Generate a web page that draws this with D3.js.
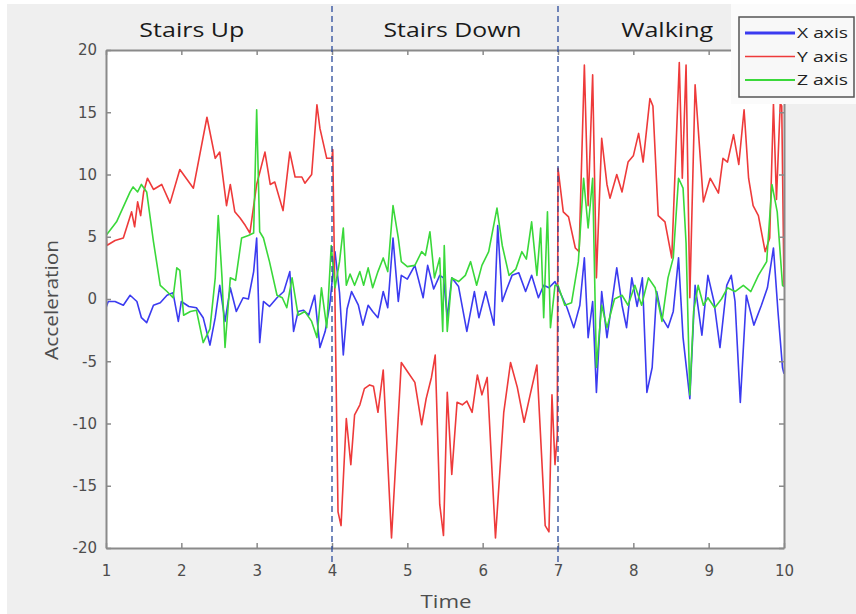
<!DOCTYPE html>
<html><head><meta charset="utf-8">
<script src="https://cdn.jsdelivr.net/npm/d3@7"></script>
<style>html,body{margin:0;padding:0;background:#fff;}svg{display:block;}</style>
</head><body>
<svg id="chart" width="856" height="614"></svg>
<script>
// ---- data ----
const xTicks = [1,2,3,4,5,6,7,8,9,10];
const yTicks = [-20,-15,-10,-5,0,5,10,15,20];
const activities = ["Stairs Up","Stairs Down","Walking"];
const activityCenters = [2.14, 5.6, 8.45];
const boundaries = [4, 7];
const seriesNames = ["X axis","Y axis","Z axis"];
const seriesColors = ["#3b3bf0","#ee3a3a","#3ad83a"];

const xAxisData = [[1.0,-0.7],[1.03,-0.2],[1.12,-0.2],[1.23,-0.5],[1.32,0.3],[1.41,-0.2],[1.47,-1.5],[1.54,-1.9],[1.63,-0.5],[1.72,-0.3],[1.81,0.3],[1.89,0.5],[1.96,-1.8],[2.0,-0.2],[2.1,-0.6],[2.2,-0.7],[2.29,-1.5],[2.38,-3.7],[2.45,-1.5],[2.51,1.1],[2.58,-1.8],[2.65,0.9],[2.73,-1.0],[2.82,0.1],[2.89,0.0],[2.96,2.2],[3.0,4.9],[3.04,-3.5],[3.09,-0.2],[3.17,-0.6],[3.27,0.1],[3.36,0.6],[3.44,2.2],[3.49,-2.6],[3.55,-1.0],[3.62,-0.9],[3.69,-1.3],[3.77,0.3],[3.84,-3.9],[3.91,-2.6],[3.97,-0.5],[4.04,3.8],[4.1,0.5],[4.15,-4.5],[4.2,-0.8],[4.26,0.6],[4.35,-0.5],[4.41,-2.1],[4.48,-0.5],[4.54,-1.0],[4.61,-1.5],[4.68,0.6],[4.74,-0.7],[4.81,4.9],[4.88,-0.2],[4.92,1.9],[5.0,1.6],[5.1,2.7],[5.21,0.1],[5.27,2.7],[5.35,0.8],[5.43,1.9],[5.48,1.7],[5.53,-1.5],[5.59,1.7],[5.68,1.0],[5.79,-2.6],[5.89,0.6],[5.95,-1.5],[6.04,0.6],[6.15,-2.1],[6.2,5.9],[6.26,-0.2],[6.32,0.8],[6.39,1.9],[6.48,2.1],[6.57,0.6],[6.65,1.9],[6.74,0.1],[6.81,1.1],[6.88,0.9],[6.96,1.4],[7.0,0.9],[7.12,-0.7],[7.21,-2.3],[7.29,-0.5],[7.35,3.3],[7.4,-3.1],[7.46,-0.2],[7.51,-7.5],[7.58,0.6],[7.65,-3.1],[7.78,2.5],[7.85,-0.5],[7.91,-2.3],[7.98,1.7],[8.05,-0.6],[8.12,1.7],[8.18,-7.5],[8.25,-5.5],[8.31,0.6],[8.38,-1.5],[8.46,-2.3],[8.53,-1.0],[8.6,3.3],[8.66,-3.1],[8.75,-8.0],[8.82,1.1],[8.91,-2.9],[8.99,1.9],[9.07,-0.2],[9.15,-3.9],[9.24,1.1],[9.3,1.9],[9.35,-0.2],[9.42,-8.3],[9.5,0.3],[9.6,-2.1],[9.7,-0.5],[9.78,0.9],[9.86,4.1],[9.92,-1.0],[9.98,-5.5],[10.0,-6.0]];

const yAxisData = [[1.0,5.5],[1.01,4.3],[1.12,4.7],[1.23,4.9],[1.34,7.0],[1.38,5.8],[1.42,7.8],[1.46,6.7],[1.5,8.6],[1.55,9.7],[1.63,8.8],[1.74,9.2],[1.85,7.7],[1.98,10.4],[2.16,8.9],[2.34,14.6],[2.45,11.3],[2.51,11.8],[2.6,7.5],[2.65,9.2],[2.71,7.0],[2.78,6.5],[2.85,5.9],[2.91,5.3],[3.0,9.2],[3.11,11.8],[3.18,9.2],[3.24,9.4],[3.35,7.1],[3.44,11.8],[3.51,9.8],[3.6,9.8],[3.64,9.3],[3.73,10.0],[3.8,15.6],[3.84,13.7],[3.93,11.3],[4.0,11.3],[4.01,12.0],[4.08,-17.1],[4.12,-18.2],[4.19,-9.6],[4.25,-13.3],[4.3,-9.3],[4.37,-8.5],[4.43,-7.2],[4.5,-6.9],[4.55,-7.0],[4.61,-9.1],[4.68,-5.7],[4.79,-19.2],[4.92,-5.1],[5.01,-5.9],[5.1,-6.7],[5.19,-10.1],[5.25,-8.0],[5.32,-6.3],[5.37,-4.5],[5.43,-16.5],[5.48,-19.0],[5.53,-7.5],[5.59,-14.1],[5.66,-8.3],[5.73,-8.5],[5.79,-8.2],[5.86,-9.1],[5.93,-6.1],[5.99,-7.7],[6.06,-6.3],[6.17,-19.2],[6.28,-9.1],[6.37,-5.1],[6.46,-7.1],[6.55,-9.9],[6.63,-7.7],[6.72,-5.3],[6.83,-18.2],[6.88,-18.7],[6.92,-7.7],[6.96,-13.3],[6.99,-11.0],[7.0,10.5],[7.07,7.0],[7.14,6.6],[7.23,4.1],[7.28,3.8],[7.35,18.8],[7.4,7.5],[7.46,18.0],[7.51,1.7],[7.58,12.9],[7.65,9.2],[7.69,8.1],[7.78,10.0],[7.85,8.6],[7.93,11.0],[8.0,11.5],[8.07,13.3],[8.13,11.0],[8.22,16.1],[8.26,15.5],[8.33,6.7],[8.42,6.2],[8.51,3.3],[8.61,19.0],[8.65,9.7],[8.7,18.8],[8.75,0.1],[8.82,17.2],[8.93,7.8],[9.02,9.7],[9.13,8.5],[9.19,11.3],[9.25,11.0],[9.33,13.2],[9.4,10.8],[9.47,15.2],[9.53,9.7],[9.59,7.5],[9.66,6.7],[9.75,3.8],[9.81,4.9],[9.86,15.7],[9.9,8.0],[9.95,15.7],[9.97,15.5],[10.0,1.0]];

const zAxisData = [[1.0,5.1],[1.14,6.2],[1.32,8.6],[1.36,9.0],[1.42,8.6],[1.47,9.2],[1.54,8.6],[1.63,4.6],[1.72,1.1],[1.81,0.6],[1.89,0.1],[1.94,2.5],[1.98,2.3],[2.03,-1.3],[2.12,-1.0],[2.2,-0.9],[2.29,-3.5],[2.38,-2.4],[2.45,1.7],[2.49,6.7],[2.54,1.7],[2.58,-3.9],[2.65,1.7],[2.72,1.5],[2.8,4.9],[2.89,5.1],[2.96,5.3],[3.0,15.2],[3.04,5.4],[3.09,4.9],[3.17,3.0],[3.27,0.3],[3.34,0.1],[3.4,-0.7],[3.47,1.7],[3.55,-1.3],[3.64,-1.0],[3.73,-1.8],[3.8,-3.1],[3.86,0.9],[3.93,-2.3],[3.99,4.3],[4.04,0.9],[4.1,3.0],[4.15,5.7],[4.19,1.1],[4.24,2.0],[4.3,1.1],[4.37,2.2],[4.42,1.1],[4.48,2.5],[4.54,0.9],[4.61,2.2],[4.68,3.3],[4.74,2.2],[4.81,7.5],[4.88,4.9],[4.92,3.0],[5.0,2.6],[5.1,2.7],[5.19,3.8],[5.24,3.5],[5.3,5.4],[5.36,1.7],[5.43,3.3],[5.47,-2.6],[5.49,4.3],[5.53,-2.6],[5.59,1.7],[5.68,1.4],[5.77,1.9],[5.84,3.0],[5.92,1.1],[5.99,2.7],[6.08,3.8],[6.19,7.3],[6.26,4.3],[6.35,1.9],[6.44,2.4],[6.52,3.8],[6.58,3.2],[6.65,6.2],[6.72,1.9],[6.77,5.7],[6.81,-1.5],[6.86,7.0],[6.9,-2.3],[6.96,1.1],[7.0,1.1],[7.09,-0.5],[7.18,-0.3],[7.27,3.0],[7.34,9.7],[7.4,5.7],[7.46,9.7],[7.51,-5.5],[7.58,-0.5],[7.65,-2.3],[7.75,0.0],[7.85,0.3],[7.93,-0.5],[8.02,1.1],[8.11,-0.5],[8.2,1.7],[8.29,0.9],[8.38,-1.8],[8.46,1.7],[8.53,3.3],[8.6,9.7],[8.66,8.9],[8.7,4.5],[8.75,-7.7],[8.8,-1.0],[8.86,1.1],[8.93,-0.5],[8.99,0.1],[9.08,-0.7],[9.17,0.0],[9.25,0.9],[9.35,0.6],[9.46,1.1],[9.56,0.6],[9.66,1.9],[9.77,3.0],[9.84,9.2],[9.91,7.0],[9.98,1.1],[10.0,1.0]];

const allSeries = [xAxisData, yAxisData, zAxisData];

// ---- layout ----
const svg = d3.select("#chart");
const W = 856, H = 614;
const L = 106, R = 784, T = 50, B = 548;
const x = d3.scaleLinear().domain([1,10]).range([L,R]);
const y = d3.scaleLinear().domain([-20,20]).range([B,T]);
const axisCol = "#8a8a8a", textCol = "#4d4d4d";
const tickFont = "'DejaVu Sans', sans-serif";
const labelFont = "'Open Sans', sans-serif";

svg.append("rect").attr("x",0).attr("y",0).attr("width",W).attr("height",H).attr("fill","#ffffff");
svg.append("rect").attr("x",7).attr("y",4).attr("width",W-7).attr("height",H-4).attr("fill","#efefef");
svg.append("rect").attr("x",L).attr("y",T).attr("width",R-L).attr("height",B-T).attr("fill","#ffffff");

svg.append("clipPath").attr("id","clip").append("rect")
  .attr("x",L).attr("y",T).attr("width",R-L).attr("height",B-T);

const line = d3.line().x(d=>x(d[0])).y(d=>y(d[1]));
const g = svg.append("g").attr("clip-path","url(#clip)");
allSeries.forEach((s,i)=>{
  g.append("path").datum(s).attr("d",line).attr("fill","none")
    .attr("stroke",seriesColors[i]).attr("stroke-width",1.6).attr("stroke-linejoin","round");
});

const fmt = d => String(d);
const axBottom = svg.append("g").attr("transform",`translate(0,${B})`)
  .call(d3.axisBottom(x).tickValues(xTicks).tickFormat(fmt).tickSizeInner(-5).tickSizeOuter(0).tickPadding(17));
const axLeft = svg.append("g").attr("transform",`translate(${L},0)`)
  .call(d3.axisLeft(y).tickValues(yTicks).tickFormat(fmt).tickSizeInner(-5).tickSizeOuter(0).tickPadding(9));
const axTop = svg.append("g").attr("transform",`translate(0,${T})`)
  .call(d3.axisTop(x).tickValues(xTicks).tickFormat("").tickSizeInner(-5).tickSizeOuter(0));
const axRight = svg.append("g").attr("transform",`translate(${R},0)`)
  .call(d3.axisRight(y).tickValues(yTicks).tickFormat("").tickSizeInner(-5).tickSizeOuter(0));
[axBottom,axLeft,axTop,axRight].forEach(a=>{
  a.select(".domain").attr("stroke",axisCol).attr("stroke-width",2);
  a.selectAll(".tick line").attr("stroke",axisCol).attr("stroke-width",1.5);
  a.selectAll("text").attr("fill",textCol).attr("font-family",tickFont).attr("font-size",15);
});

boundaries.forEach(b=>{
  svg.append("line").attr("x1",x(b)).attr("x2",x(b)).attr("y1",6).attr("y2",B+14)
    .attr("stroke","#2a4a9a").attr("stroke-width",1.3).attr("stroke-dasharray","6,4");
});

const titleWidths = [105, 138, 92];
activities.forEach((a,i)=>{
  svg.append("text").attr("x",x(activityCenters[i])).attr("y",37).attr("text-anchor","middle")
    .attr("font-family",labelFont).attr("font-size",20).attr("fill","#1a1a1a")
    .attr("textLength",titleWidths[i]).attr("lengthAdjust","spacingAndGlyphs").text(a);
});

svg.append("text").attr("x",446).attr("y",608).attr("text-anchor","middle")
  .attr("font-family",labelFont).attr("font-size",19).attr("fill",textCol)
  .attr("textLength",51).attr("lengthAdjust","spacingAndGlyphs").text("Time");
svg.append("text").attr("transform","translate(58,300) rotate(-90)").attr("text-anchor","middle")
  .attr("font-family",labelFont).attr("font-size",18).attr("fill",textCol)
  .attr("textLength",120).attr("lengthAdjust","spacingAndGlyphs").text("Acceleration");

svg.append("rect").attr("x",731).attr("y",4).attr("width",125).attr("height",100).attr("fill","#fbfbfb");
const lg = svg.append("g");
lg.append("rect").attr("x",739).attr("y",17).attr("width",115).attr("height",80)
  .attr("fill","#f8f8f8").attr("stroke","#555").attr("stroke-width",1.5);
const lw = [3,1.5,2];
seriesNames.forEach((n,i)=>{
  const yy = 33 + i*23.5;
  lg.append("line").attr("x1",745).attr("x2",795).attr("y1",yy).attr("y2",yy)
    .attr("stroke",seriesColors[i]).attr("stroke-width",lw[i]);
  lg.append("text").attr("x",797).attr("y",yy+5).attr("font-family",labelFont)
    .attr("font-size",14).attr("fill","#222")
    .attr("textLength",51).attr("lengthAdjust","spacingAndGlyphs").text(n);
});
</script>
</body></html>
